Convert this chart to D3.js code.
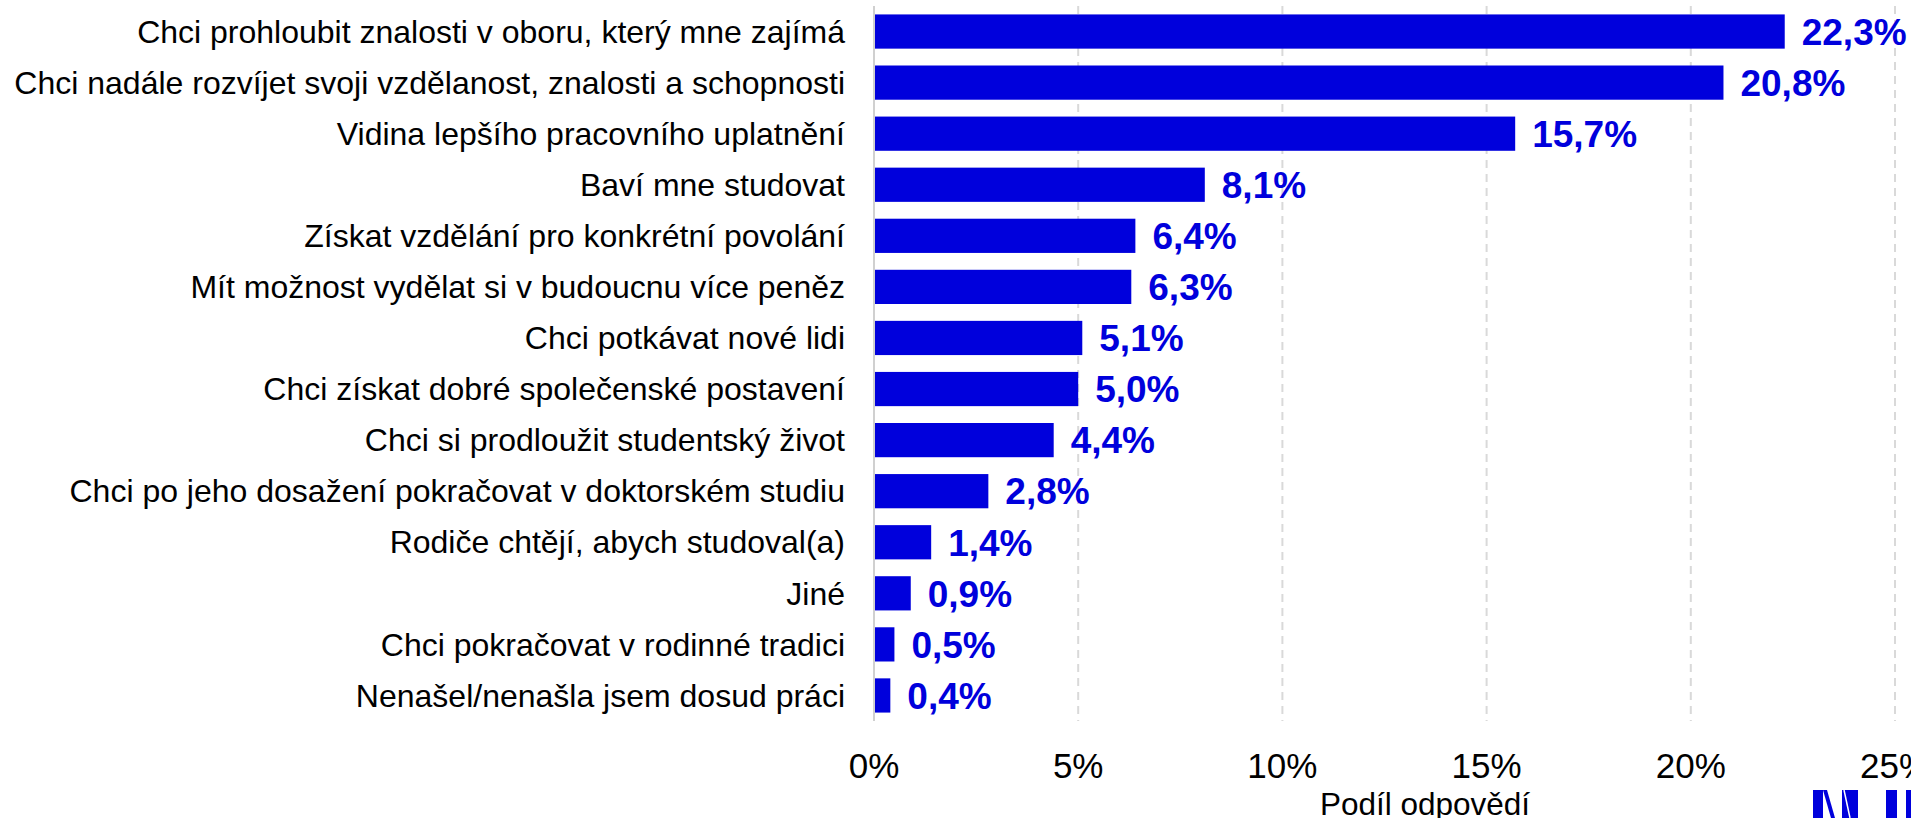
<!DOCTYPE html>
<html>
<head>
<meta charset="utf-8">
<script src="https://cdn.jsdelivr.net/npm/d3@7"></script>
<style>
  html, body { margin: 0; padding: 0; background: #fff; }
  svg { display: block; font-family: "Liberation Sans", Arial, sans-serif; }
</style>
</head>
<body>
<svg id="chart" width="1911" height="818"></svg>
<script>
const categories = [
  "Chci prohloubit znalosti v oboru, který mne zajímá",
  "Chci nadále rozvíjet svoji vzdělanost, znalosti a schopnosti",
  "Vidina lepšího pracovního uplatnění",
  "Baví mne studovat",
  "Získat vzdělání pro konkrétní povolání",
  "Mít možnost vydělat si v budoucnu více peněz",
  "Chci potkávat nové lidi",
  "Chci získat dobré společenské postavení",
  "Chci si prodloužit studentský život",
  "Chci po jeho dosažení pokračovat v doktorském studiu",
  "Rodiče chtějí, abych studoval(a)",
  "Jiné",
  "Chci pokračovat v rodinné tradici",
  "Nenašel/nenašla jsem dosud práci"
];
const values = [22.3, 20.8, 15.7, 8.1, 6.4, 6.3, 5.1, 5.0, 4.4, 2.8, 1.4, 0.9, 0.5, 0.4];
const tickValues = [0, 5, 10, 15, 20, 25];
const axisTitle = "Podíl odpovědí";

const plotL = 874, plotR = 1895, plotT = 6, plotB = 721;
const blue = "#0000DC";

const svg = d3.select("#chart");
const x = d3.scaleLinear().domain([0, 25]).range([plotL, plotR]);
const y = d3.scaleBand().domain(categories).range([plotT, plotB]).paddingInner(0.33).paddingOuter(0.165);

// gridlines
svg.append("g").selectAll("line").data(tickValues.filter(d => d > 0)).join("line")
  .attr("x1", d => x(d)).attr("x2", d => x(d))
  .attr("y1", plotT).attr("y2", plotB)
  .attr("stroke", "#d9d9d9").attr("stroke-width", 2).attr("stroke-dasharray", "8,6");

// bars
svg.append("g").selectAll("rect").data(values).join("rect")
  .attr("x", x(0))
  .attr("y", (d, i) => y(categories[i]))
  .attr("width", d => x(d) - x(0))
  .attr("height", y.bandwidth())
  .attr("fill", blue);

// zero axis line
svg.append("line").attr("x1", x(0)).attr("x2", x(0)).attr("y1", plotT).attr("y2", plotB)
  .attr("stroke", "#d0d0d0").attr("stroke-width", 2);

// category labels
svg.append("g").selectAll("text").data(categories).join("text")
  .attr("x", 845)
  .attr("y", d => y(d) + y.bandwidth() / 2)
  .attr("dy", "0.35em")
  .attr("text-anchor", "end")
  .attr("font-size", 32)
  .attr("fill", "#000")
  .text(d => d);

// value labels
const fmt = v => v.toFixed(1).replace(".", ",") + "%";
svg.append("g").selectAll("text").data(values).join("text")
  .attr("x", d => x(d) + 17)
  .attr("y", (d, i) => y(categories[i]) + y.bandwidth() / 2)
  .attr("dy", "0.36em")
  .attr("font-size", 37)
  .attr("font-weight", "bold")
  .attr("fill", blue)
  .text(fmt);

// x axis tick labels
svg.append("g").selectAll("text").data(tickValues).join("text")
  .attr("x", d => x(d))
  .attr("y", 778)
  .attr("text-anchor", "middle")
  .attr("font-size", 35)
  .attr("fill", "#000")
  .text(d => d + "%");

// axis title
svg.append("text")
  .attr("x", 1425).attr("y", 815)
  .attr("text-anchor", "middle")
  .attr("font-size", 31.5)
  .attr("fill", "#000")
  .text(axisTitle);

// logo fragment (bottom right)
const logo = svg.append("g").attr("fill", blue);
logo.append("rect").attr("x", 1813).attr("y", 790).attr("width", 10).attr("height", 28);
logo.append("polygon").attr("points", "1823,790 1827,790 1835,818 1831,818");
logo.append("rect").attr("x", 1842).attr("y", 790).attr("width", 16).attr("height", 28);
logo.append("rect").attr("x", 1886).attr("y", 790).attr("width", 11).attr("height", 28);
logo.append("rect").attr("x", 1906).attr("y", 790).attr("width", 5).attr("height", 28);
logo.append("line").attr("x1", 1844).attr("y1", 790).attr("x2", 1850).attr("y2", 818)
  .attr("stroke", "#fff").attr("stroke-width", 1.5);
</script>
</body>
</html>
